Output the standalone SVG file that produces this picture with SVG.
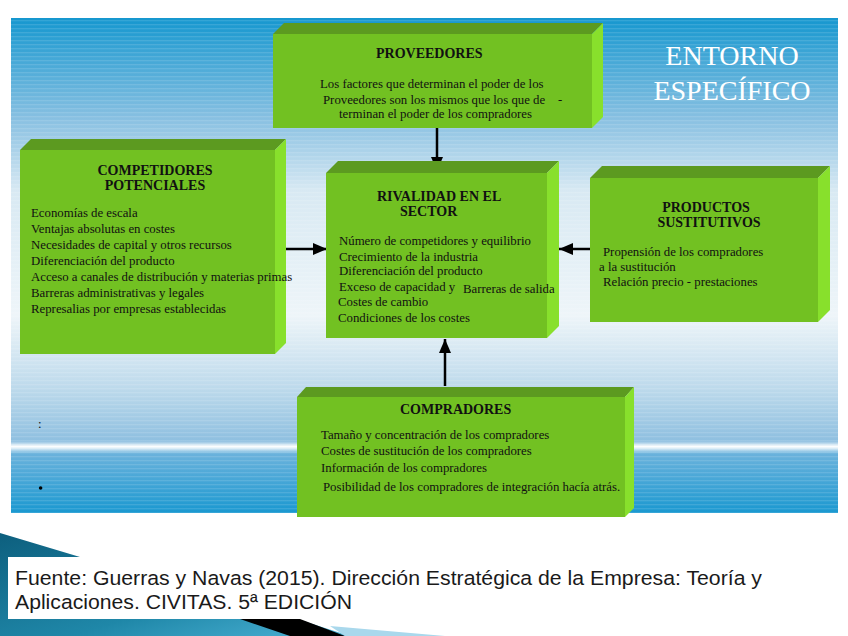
<svg xmlns="http://www.w3.org/2000/svg" width="848" height="636" viewBox="0 0 848 636">
<defs>
<linearGradient id="panel" x1="0" y1="0" x2="0" y2="1">
<stop offset="0" stop-color="#1597cf"/>
<stop offset="0.2" stop-color="#86bfe1"/>
<stop offset="0.35" stop-color="#d8e9f3"/>
<stop offset="0.6" stop-color="#eef5f9"/>
<stop offset="0.75" stop-color="#bcd9eb"/>
<stop offset="0.855" stop-color="#8ebfe0"/>
<stop offset="0.866" stop-color="#ffffff"/>
<stop offset="0.88" stop-color="#6ab2dc"/>
<stop offset="1" stop-color="#1a98d0"/>
</linearGradient>
<pattern id="stripes" width="4" height="4" patternUnits="userSpaceOnUse">
<rect width="4" height="1.3" fill="#ffffff" opacity="0.12"/>
</pattern>
<linearGradient id="teal" x1="0" y1="0" x2="1" y2="1">
<stop offset="0" stop-color="#0d5f7e"/>
<stop offset="0.6" stop-color="#1f87a8"/>
<stop offset="1" stop-color="#4cb3d6"/>
</linearGradient>
<marker id="ah" markerUnits="userSpaceOnUse" markerWidth="14" markerHeight="12" viewBox="0 0 14 12" refX="14" refY="6" orient="auto">
<path d="M0,0 L14,6 L0,12 z" fill="#000"/>
</marker>
<style>
.front{fill:#72c122}
.top{fill:#5c9a20}
.side{fill:#88e02c}
.tt{font-family:"Liberation Serif","Times New Roman",serif;font-weight:bold;font-size:14px;fill:#111}
.bd{font-family:"Liberation Serif","Times New Roman",serif;font-size:12.8px;fill:#111}
.ent{font-family:"Liberation Serif","Times New Roman",serif;font-size:28px;fill:#ffffff}
.cap{font-family:"Liberation Sans",Arial,sans-serif;font-size:20.5px;fill:#1a1a1a}
.conn{stroke:#000;stroke-width:2.5;fill:none}
</style>
</defs>

<rect width="848" height="636" fill="#ffffff"/>

<!-- background panel -->
<rect x="11" y="18" width="827" height="495" fill="url(#panel)"/>
<rect x="11" y="18" width="827" height="495" fill="url(#stripes)"/>

<!-- bottom decoration -->
<polygon points="0,533 80,557 300,620 350,636 0,636" fill="url(#teal)"/>
<polygon points="240,619 300,619 345,636 290,636" fill="#000"/>
<polygon points="330,626 445,636 345,636" fill="#a9d8ec"/>
<rect x="8" y="557" width="782" height="62" fill="#ffffff"/>

<text class="ent" x="732" y="65" text-anchor="middle">ENTORNO</text>
<text class="ent" x="732" y="100" text-anchor="middle">ESPECÍFICO</text>

<text class="bd" x="38" y="428" font-size="8">:</text>
<circle cx="40.6" cy="488" r="1.8" fill="#000"/>

<!-- connectors -->
<g id="connectors">
<line class="conn" x1="437" y1="128" x2="437" y2="171" marker-end="url(#ah)"/>
<line class="conn" x1="286" y1="249" x2="327" y2="249" marker-end="url(#ah)"/>
<line class="conn" x1="590" y1="249" x2="559" y2="249" marker-end="url(#ah)"/>
<line class="conn" x1="445" y1="386" x2="445" y2="339" marker-end="url(#ah)"/>
</g>

<g id="proveedores">
<polygon class="top" points="273,34 284,23 603,23 592,34"/>
<polygon class="side" points="592,34 603,23 603,117 592,128"/>
<rect class="front" x="273" y="34" width="319" height="94"/>
<text class="tt" x="376" y="58">PROVEEDORES</text>
<text class="bd" x="320" y="88">Los factores que determinan el poder de los</text>
<text class="bd" x="323" y="104">Proveedores son los mismos que los que de</text>
<text class="bd" x="558" y="104">-</text>
<text class="bd" x="339" y="118">terminan el poder de los compradores</text>
</g>

<g id="competidores">
<polygon class="top" points="20,150 31,139 286,139 275,150"/>
<polygon class="side" points="275,150 286,139 286,343 275,354"/>
<rect class="front" x="20" y="150" width="255" height="204"/>
<text class="tt" x="155" y="175" text-anchor="middle">COMPETIDORES</text>
<text class="tt" x="155" y="190" text-anchor="middle">POTENCIALES</text>
<text class="bd" x="31" y="217">Economías de escala</text>
<text class="bd" x="31" y="233">Ventajas absolutas en costes</text>
<text class="bd" x="31" y="249">Necesidades de capital y otros recursos</text>
<text class="bd" x="31" y="265">Diferenciación del producto</text>
<text class="bd" x="31" y="281">Acceso a canales de distribución y materias primas</text>
<text class="bd" x="31" y="297">Barreras administrativas y legales</text>
<text class="bd" x="31" y="313">Represalias por empresas establecidas</text>
</g>

<g id="rivalidad">
<polygon class="top" points="326,173 338,161 559,161 547,173"/>
<polygon class="side" points="547,173 559,161 559,326 547,338"/>
<rect class="front" x="326" y="173" width="221" height="165"/>
<text class="tt" x="377" y="201">RIVALIDAD EN EL</text>
<text class="tt" x="400" y="216">SECTOR</text>
<text class="bd" x="339" y="245">Número de competidores y equilibrio</text>
<text class="bd" x="339" y="261">Crecimiento de la industria</text>
<text class="bd" x="339" y="275">Diferenciación del producto</text>
<text class="bd" x="339" y="291">Exceso de capacidad y</text>
<text class="bd" x="463" y="293">Barreras de salida</text>
<text class="bd" x="338" y="306">Costes de cambio</text>
<text class="bd" x="338" y="322">Condiciones de los costes</text>
</g>

<g id="productos">
<polygon class="top" points="590,178 602,166 830,166 818,178"/>
<polygon class="side" points="818,178 830,166 830,310 818,322"/>
<rect class="front" x="590" y="178" width="228" height="144"/>
<text class="tt" x="706" y="212" text-anchor="middle">PRODUCTOS</text>
<text class="tt" x="709" y="227" text-anchor="middle">SUSTITUTIVOS</text>
<text class="bd" x="603" y="256">Propensión de los compradores</text>
<text class="bd" x="599" y="271">a la sustitución</text>
<text class="bd" x="603" y="286">Relación precio - prestaciones</text>
</g>

<g id="compradores">
<polygon class="top" points="297,397 306,387 634,387 625,397"/>
<polygon class="side" points="625,397 634,387 634,508 625,517"/>
<rect class="front" x="297" y="397" width="328" height="120"/>
<text class="tt" x="400" y="414">COMPRADORES</text>
<text class="bd" x="321" y="439">Tamaño y concentración de los compradores</text>
<text class="bd" x="321" y="455">Costes de sustitución de los compradores</text>
<text class="bd" x="321" y="472">Información de los compradores</text>
<text class="bd" x="323" y="491">Posibilidad de los compradores de integración hacía atrás.</text>
</g>

<text class="cap" x="15" y="585" textLength="747" lengthAdjust="spacingAndGlyphs">Fuente: Guerras y Navas (2015). Dirección Estratégica de la Empresa: Teoría y</text>
<text class="cap" x="15" y="609" textLength="337" lengthAdjust="spacingAndGlyphs">Aplicaciones. CIVITAS. 5ª EDICIÓN</text>
</svg>
